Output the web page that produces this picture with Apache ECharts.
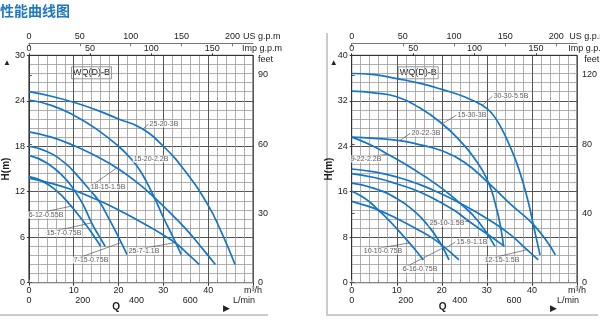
<!DOCTYPE html>
<html>
<head>
<meta charset="utf-8">
<script src="https://cdn.jsdelivr.net/npm/echarts/dist/echarts.min.js"></script>
<style>
html,body{margin:0;padding:0;background:#fff;}
#chart{width:600px;height:322px;}
</style>
</head>
<body>
<div id="chart"></div>
<script>
// ---- WQ(D)-B pump performance curves: Q in m³/h, H in m ----

// left panel (H up to 30 m)
const c_25_20_3B   = [[0,25.2],[5,24.6],[10,23.8],[15,22.8],[20,21.6],[25,20.4],[30,18.0],[35,14.6],[40,10.2],[43,6.6],[46,2.4]];
const c_15_20_22B  = [[0,24.1],[5,23.4],[10,22.1],[15,20.3],[20,18.0],[23,16.2],[25,14.6],[27.7,11.6],[30,8.6],[32,6.2],[34,3.7]];
const c_18_15_15B  = [[0,19.9],[5,19.2],[10,18.1],[15,16.7],[20,15.0],[25,12.8],[27.7,11.4],[30,10.1],[35,7.1],[39,4.3],[41.6,2.4]];
const c_7_15_075B  = [[0,18.0],[4,17.3],[8,15.8],[11,14.0],[13.5,12.3],[15.7,10.7],[18,8.3],[20,6.0],[21.9,3.7]];
const c_15_7_075B  = [[0,16.8],[4,15.8],[8,13.8],[10,12.3],[12,10.4],[14,7.9],[15.5,6.3],[17,4.8]];
const c_6_12_055B  = [[0,14.0],[3,13.4],[6,12.2],[9,10.4],[12,8.2],[14,6.6],[16,4.8]];
const c_25_7_11B   = [[0,13.8],[5,13.1],[10,12.2],[15,11.0],[20,9.6],[25,8.0],[30,6.3],[33,5.1],[36,3.5],[38,2.4]];

// right panel (H up to 40 m)
const c_30_30_55B  = [[0,36.8],[5,36.6],[10,35.9],[15,35.1],[20,34.0],[25,32.7],[29,31.2],[31,29.9],[33,27.5],[35,24.2],[37,20.2],[39,14.8],[40.5,9.5],[41.8,4.9]];
const c_15_30_3B   = [[0,33.7],[5,33.4],[10,32.7],[15,30.8],[20,28.0],[24,25.0],[27.5,21.6],[30.4,17.5],[32,13.5],[33,10.0],[33.7,6.5]];
const c_20_22_3B   = [[0,25.6],[5,25.4],[10.7,25.0],[15,24.3],[20,23.2],[25,21.2],[30.4,17.5],[35,14.0],[40.7,9.9],[45.2,4.9]];
const c_9_22_22B   = [[0,25.6],[4,24.3],[8,22.6],[12,20.8],[16,18.8],[20,16.6],[24,14.0],[28,10.9],[31.8,6.4]];
const c_12_15_15B  = [[0,20.0],[5,19.5],[10,18.6],[15,17.3],[20,15.6],[25,13.6],[30,11.3],[35,8.6],[38.9,5.8],[41.4,4.0]];
const c_25_10_15B  = [[0,19.2],[5,18.5],[10,17.4],[15,16.0],[20,14.0],[23,12.6],[26,10.8],[30,8.6],[33.9,6.4]];
const c_6_16_075B  = [[0,17.5],[5,16.6],[10,14.8],[14,12.5],[17,10.0],[19.5,7.2],[21.6,4.0]];
const c_10_10_075B = [[0,16.1],[2,15.3],[4,14.2],[5.6,13.0],[8,11.2],[10,9.5],[12.8,7.0],[14.5,5.4],[15.9,4.0]];
const c_15_9_11B   = [[0,14.3],[3,13.6],[5.6,12.9],[10,11.3],[15,9.2],[18,7.8],[20,6.6],[22,5.3],[23.8,4.0]];

// model names, curves and the point each name tag points at
const leftModels  = ['25-20-3B','15-20-2.2B','18-15-1.5B','7-15-0.75B','15-7-0.75B','6-12-0.55B','25-7-1.1B'];
const leftCurves  = [c_25_20_3B,c_15_20_22B,c_18_15_15B,c_7_15_075B,c_15_7_075B,c_6_12_055B,c_25_7_11B];
const leftAnchors = [[25.5,20.3],[23,16.3],[19.5,15.1],[20.6,5.3],[14,7.9],[9.5,10.1],[32.8,5.3]];

const rightModels  = ['30-30-5.5B','15-30-3B','20-22-3B','9-22-2.2B','12-15-1.5B','25-10-1.5B','6-16-0.75B','10-10-0.75B','15-9-1.1B'];
const rightCurves  = [c_30_30_55B,c_15_30_3B,c_20_22_3B,c_9_22_22B,c_12_15_15B,c_25_10_15B,c_6_16_075B,c_10_10_075B,c_15_9_11B];
const rightAnchors = [[29,31.2],[20.2,28.0],[10.7,25.0],[8,22.6],[38.9,5.8],[26,10.8],[20.5,6.2],[12.8,7.0],[21,6.2]];

// axis ranges and ticks
const qMax = 50, qStep = 10;
const leftHMax = 30, leftHStep = 6;
const rightHMax = 40, rightHStep = 8;

// unit conversions from m³/h and m
const US_GPM = 4.40287, IMP_GPM = 3.66615, L_MIN = 1000 / 60, FEET = 3.28084;

// ---- layout (pixels) ----
const plotTop = 55.3, plotH = 227.4;
const panels = [
  { left: 25,    width: 228,   hMax: leftHMax,  hStep: leftHStep,  feetStep: 30,
    models: leftModels, curves: leftCurves, anchors: leftAnchors,
    tags: [[164,124],[151,159],[108,187],[91,260],[64,233],[46,215],[144,251]] },
  { left: 351.7, width: 227.6, hMax: rightHMax, hStep: rightHStep, feetStep: 40,
    models: rightModels, curves: rightCurves, anchors: rightAnchors,
    tags: [[511,96],[472,115],[426,133],[366,159],[502,260],[447,223],[420,269],[383,251],[472,242]] }
];

const FONT = 'Liberation Sans, Arial, sans-serif';
const BLUE = '#1476c6';
const txt = { fontFamily: FONT, fontSize: 9, color: '#222' };

const grid = [], xAxis = [], yAxis = [], series = [], graphic = [];

panels.forEach((p, gi) => {
  grid.push({ left: p.left, top: plotTop, width: p.width, height: plotH,
    show: true, borderColor: '#333', borderWidth: 1, backgroundColor: '#fff' });

  const xBase = xAxis.length, yBase = yAxis.length;

  // main flow axis, m³/h
  xAxis.push({
    gridIndex: gi, type: 'value', min: 0, max: qMax, interval: qStep, position: 'bottom',
    axisLine: { show: true, lineStyle: { color: '#333', width: 1 } },
    axisTick: { show: true, length: 3, lineStyle: { color: '#333' } },
    axisLabel: { ...txt, margin: 3, formatter: v => v === qMax ? 'm³/h' : String(v) },
    splitLine: { show: true, lineStyle: { color: '#555', width: 1 } },
    minorTick: { show: false, splitNumber: 5 },
    minorSplitLine: { show: true, lineStyle: { color: '#9a9a9a', width: 0.8 } }
  });
  // L/min
  xAxis.push({
    gridIndex: gi, type: 'value', min: 0, max: qMax * L_MIN, interval: 100, position: 'bottom', offset: 12,
    axisLine: { show: true, lineStyle: { color: '#888', width: 1 } },
    axisTick: { show: true, inside: true, length: 3, lineStyle: { color: '#888' } },
    axisLabel: { ...txt, margin: 1, showMaxLabel: false,
      formatter: v => v === 800 ? 'L/min' : (v % 200 === 0 ? String(v) : '') },
    splitLine: { show: false }
  });
  // US g.p.m
  xAxis.push({
    gridIndex: gi, type: 'value', min: 0, max: qMax * US_GPM, interval: 50, position: 'top', offset: 12,
    axisLine: { show: true, lineStyle: { color: '#777', width: 1 } },
    axisTick: { show: true, inside: true, length: 3, lineStyle: { color: '#777' } },
    axisLabel: { ...txt, margin: 2, showMaxLabel: false },
    splitLine: { show: false }
  });
  // Imp g.p.m
  xAxis.push({
    gridIndex: gi, type: 'value', min: 0, max: qMax * IMP_GPM, interval: 50, position: 'top', offset: 0,
    axisLine: { show: true, lineStyle: { color: '#333', width: 1 } },
    axisTick: { show: true, length: 2, lineStyle: { color: '#333' } },
    axisLabel: { ...txt, margin: 2, showMaxLabel: false },
    splitLine: { show: false }
  });

  // head, m
  yAxis.push({
    gridIndex: gi, type: 'value', min: 0, max: p.hMax, interval: p.hStep, position: 'left',
    name: 'H(m)', nameLocation: 'middle', nameGap: 14, nameRotate: 90,
    nameTextStyle: { fontFamily: FONT, fontSize: 10, fontWeight: 'bold', color: '#222' },
    axisLine: { show: true, lineStyle: { color: '#333', width: 1 } },
    axisTick: { show: true, length: 2, lineStyle: { color: '#333' } },
    axisLabel: { ...txt, margin: 4 },
    splitLine: { show: true, lineStyle: { color: '#555', width: 1 } },
    minorTick: { show: false, splitNumber: 5 },
    minorSplitLine: { show: true, lineStyle: { color: '#9a9a9a', width: 0.8 } }
  });
  // head, feet
  yAxis.push({
    gridIndex: gi, type: 'value', min: 0, max: p.hMax * FEET, interval: p.feetStep, position: 'right',
    axisLine: { show: true, lineStyle: { color: '#333', width: 1 } },
    axisTick: { show: true, length: 3, lineStyle: { color: '#555' } },
    axisLabel: { ...txt, margin: 5, showMaxLabel: false },
    splitLine: { show: false }
  });

  // pump curves
  p.curves.forEach((pts, i) => {
    series.push({
      type: 'line', name: p.models[i], xAxisIndex: xBase, yAxisIndex: yBase,
      data: pts, smooth: 0.5, showSymbol: false, silent: true,
      lineStyle: { color: BLUE, width: 1.7 }, z: 3
    });
  });

  // model name tags with leader lines
  series.push({
    type: 'scatter', xAxisIndex: xBase, yAxisIndex: yBase, symbolSize: 0, silent: true,
    data: p.anchors.map((a, i) => ({ value: a, name: p.models[i] })),
    label: { show: true, formatter: '{b}', fontFamily: FONT, fontSize: 7, color: '#333',
      backgroundColor: '#fff', padding: [0, 1] },
    labelLine: { show: true, lineStyle: { color: '#555', width: 0.7 } },
    labelLayout: prm => ({ x: p.tags[prm.dataIndex][0], y: p.tags[prm.dataIndex][1],
      align: 'center', verticalAlign: 'middle', hideOverlap: false }),
    z: 5
  });

  const right = p.left + p.width;
  const bottom = plotTop + plotH;
  graphic.push(
    { type: 'text', left: right - 10, top: plotTop - 23,
      style: { text: 'US g.p.m', font: '9px ' + FONT, fill: '#222' } },
    { type: 'text', left: right - 11, top: plotTop - 11,
      style: { text: 'Imp g.p.m', font: '9px ' + FONT, fill: '#222' } },
    { type: 'text', left: right + 5, top: plotTop,
      style: { text: 'feet', font: '9px ' + FONT, fill: '#222' } },
    { type: 'text', left: p.left - 22, top: plotTop + 3,
      style: { text: '▲', font: '8px ' + FONT, fill: '#222' } },
    { type: 'text', left: p.left + 20 * p.width / qMax - 4, top: bottom + 20,
      style: { text: 'Q', font: 'bold 10px ' + FONT, fill: '#222' } },
    { type: 'text', left: p.left + 0.87 * p.width, top: bottom + 21,
      style: { text: '▶', font: '9px ' + FONT, fill: '#222' } },
    { type: 'group', left: p.left + 46, top: plotTop + 11, children: [
      { type: 'rect', shape: { x: 0, y: 0, width: 40, height: 12 },
        style: { fill: '#fff', stroke: '#999', lineWidth: 1 } },
      { type: 'text', x: 20, y: 6,
        style: { text: 'WQ(D)-B', font: '9px ' + FONT, fill: '#222', textAlign: 'center', textVerticalAlign: 'middle' } }
    ] }
  );
});

// page title and panel frames
graphic.push(
  { type: 'text', left: 0, top: 4,
    style: { text: '性能曲线图', font: 'bold 14px "Noto Sans CJK SC"', fill: '#1f78c1' } },
  { type: 'line', shape: { x1: 0, y1: 315, x2: 268, y2: 315 }, style: { stroke: '#bbb', lineWidth: 1.5 } },
  { type: 'polyline', shape: { points: [[327, 33], [327, 315], [598, 315]] }, style: { stroke: '#bbb', lineWidth: 1.5, fill: null } }
);

const chart = echarts.init(document.getElementById('chart'), null, { renderer: 'canvas' });
chart.setOption({ animation: false, grid, xAxis, yAxis, series, graphic });
</script>
</body>
</html>
